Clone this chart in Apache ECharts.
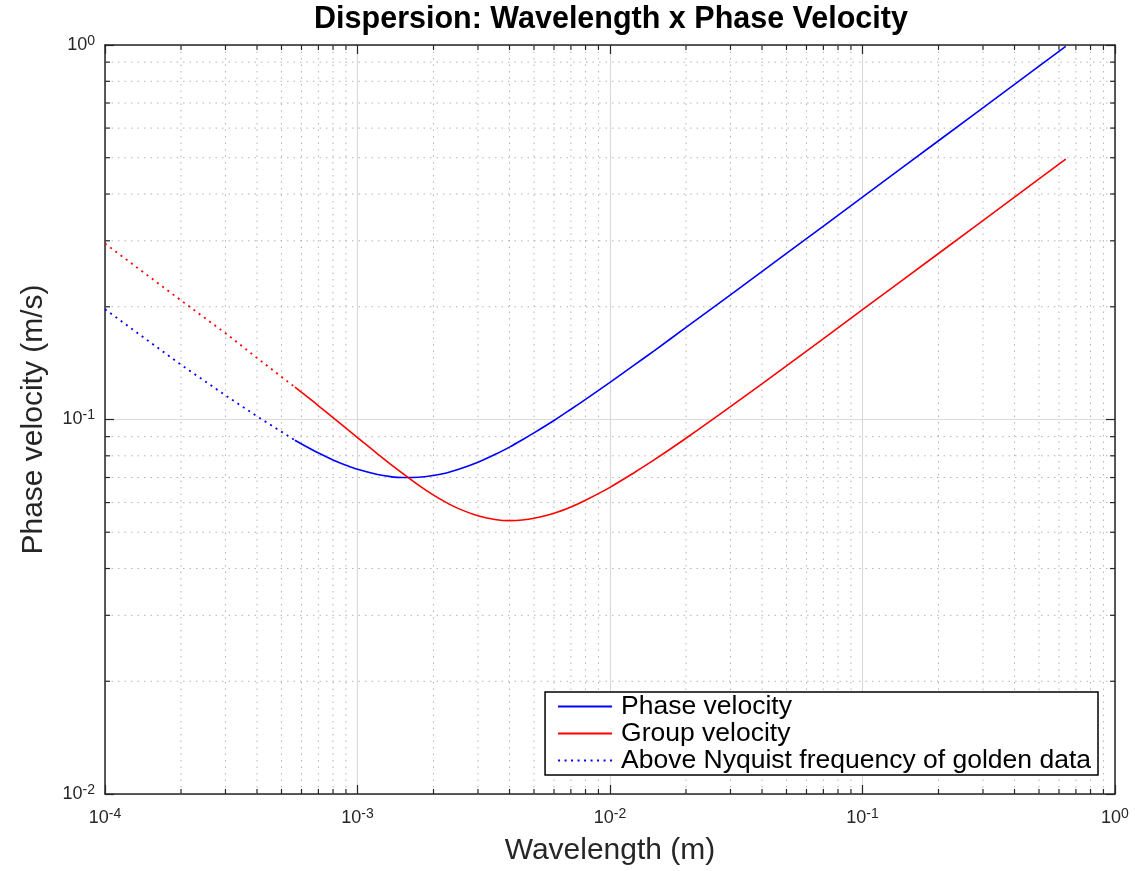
<!DOCTYPE html>
<html>
<head>
<meta charset="utf-8">
<script src="https://cdn.jsdelivr.net/npm/echarts@6/dist/echarts.min.js"></script>
<style>html,body{margin:0;padding:0;background:#fff;}#chart{width:1135px;height:871px;}</style>
</head>
<body>
<div id="chart"></div>
<script>
// ---- data ----
const xTickExponents = [-4, -3, -2, -1, 0];
const yTickExponents = [-2, -1, 0];
const seriesNames = ['Phase velocity', 'Group velocity', 'Above Nyquist frequency of golden data'];

// above-Nyquist (dotted) part
const nyqWavelength = [1e-4, 2e-4, 3e-4, 4e-4, 5.65e-4];
const nyqPhase      = [0.197, 0.140, 0.116, 0.102, 0.088];
const nyqGroup      = [0.295, 0.208, 0.170, 0.146, 0.122];

// solid part
const wavelength = [5.65e-4, 6.5e-4, 7e-4, 8e-4, 9e-4, 1e-3, 1.2e-3, 1.35e-3, 1.5e-3, 1.75e-3, 2e-3, 2.25e-3, 2.5e-3, 3e-3, 3.5e-3, 4e-3, 4.5e-3, 5e-3, 6e-3, 7e-3, 8e-3, 1e-2, 1.25e-2, 1.5e-2, 2e-2, 3e-2, 5e-2, 0.1, 0.2, 0.4, 0.638];
const phaseVel   = [0.088, 0.0835, 0.0814, 0.0780, 0.0755, 0.0736, 0.0713, 0.0704, 0.0700, 0.0701, 0.0709, 0.0720, 0.0735, 0.0769, 0.0806, 0.0844, 0.0883, 0.0921, 0.0994, 0.1065, 0.1132, 0.1257, 0.1399, 0.1528, 0.1761, 0.2152, 0.2776, 0.3925, 0.555, 0.785, 0.991];
const groupVel   = [0.122, 0.1133, 0.1088, 0.1012, 0.0949, 0.0895, 0.0810, 0.0760, 0.0720, 0.0667, 0.0628, 0.0600, 0.0579, 0.0553, 0.0541, 0.0537, 0.0539, 0.0545, 0.0562, 0.0584, 0.0609, 0.0659, 0.0722, 0.0781, 0.0891, 0.1082, 0.1391, 0.1964, 0.2775, 0.3924, 0.4956];

// ---- helpers ----
const FONT = 'Liberation Sans, Arial, Helvetica, sans-serif';
const xMin = Math.pow(10, xTickExponents[0]), xMax = Math.pow(10, xTickExponents[xTickExponents.length - 1]);
const yMin = Math.pow(10, yTickExponents[0]), yMax = Math.pow(10, yTickExponents[yTickExponents.length - 1]);
function minorValues(exps) {
  const out = [];
  for (let i = 0; i < exps.length - 1; i++) for (let m = 2; m <= 9; m++) out.push(m * Math.pow(10, exps[i]));
  return out;
}
const xMinor = minorValues(xTickExponents);
const yMinor = minorValues(yTickExponents);
const zip = (a, b) => a.map((v, i) => [v, b[i]]);
const labelFmt = v => '{b|10}{s|' + Math.round(Math.log10(v)) + '}';
const rich = { b: { fontSize: 18, fontFamily: FONT, color: '#262626' }, s: { fontSize: 14, fontFamily: FONT, color: '#262626', padding: [0, 0, 8, 0] } };
const AX = '#262626';

const chart = echarts.init(document.getElementById('chart'), null, { renderer: 'canvas' });

function minorGridItem(isX) {
  return function (params, api) {
    const gs = { stroke: '#b3b3b3', lineWidth: 1, lineDash: [1.5, 5] };
    const ts = { stroke: AX, lineWidth: 1.2 };
    if (isX) {
      const v = api.value(0);
      const b = api.coord([v, yMin]), t = api.coord([v, yMax]);
      return { type: 'group', children: [
        { type: 'line', shape: { x1: b[0], y1: b[1], x2: t[0], y2: t[1] }, style: gs },
        { type: 'line', shape: { x1: b[0], y1: b[1], x2: b[0], y2: b[1] - 5 }, style: ts },
        { type: 'line', shape: { x1: t[0], y1: t[1], x2: t[0], y2: t[1] + 5 }, style: ts }
      ]};
    } else {
      const v = api.value(1);
      const l = api.coord([xMin, v]), r = api.coord([xMax, v]);
      return { type: 'group', children: [
        { type: 'line', shape: { x1: l[0], y1: l[1], x2: r[0], y2: r[1] }, style: gs },
        { type: 'line', shape: { x1: l[0], y1: l[1], x2: l[0] + 5, y2: l[1] }, style: ts },
        { type: 'line', shape: { x1: r[0], y1: r[1], x2: r[0] - 5, y2: r[1] }, style: ts }
      ]};
    }
  };
}

const baseAxis = {
  type: 'log', logBase: 10,
  axisLine: { show: true, onZero: false, lineStyle: { color: AX, width: 1.5 } },
  axisTick: { show: true, inside: true, length: 9, lineStyle: { color: AX, width: 1.2 } },
  minorTick: { show: false },
  minorSplitLine: { show: false }
};

// legend icons: thin solid bar, and a row of dots
const solidIcon = 'path://M0,0H54V2H0Z';
let dotPath = 'path://';
for (let x = 0; x <= 52; x += 6.5) dotPath += 'M' + x + ',0h2v2h-2z';

const option = {
  animation: false,
  backgroundColor: '#fff',
  textStyle: { fontFamily: FONT },
  grid: { left: 105, right: 20, top: 45, bottom: 77, containLabel: false },
  graphic: [{
    type: 'text', x: 611, y: 4,
    style: { text: 'Dispersion: Wavelength x Phase Velocity', fontFamily: FONT, fontSize: 30.5, fontWeight: 'bold', fill: '#000', textAlign: 'center', textVerticalAlign: 'top' }
  }],
  xAxis: [
    Object.assign({}, baseAxis, {
      position: 'bottom', min: xMin, max: xMax,
      name: 'Wavelength (m)', nameLocation: 'middle', nameGap: 42,
      nameTextStyle: { fontSize: 30, color: '#262626', fontFamily: FONT },
      axisLabel: { formatter: labelFmt, rich: rich, margin: 13, showMinLabel: true, showMaxLabel: true },
      splitLine: { show: true, lineStyle: { color: '#dadada', width: 1.2 } }
    }),
    Object.assign({}, baseAxis, {
      position: 'top', min: xMin, max: xMax,
      axisLabel: { show: false }, splitLine: { show: false }
    })
  ],
  yAxis: [
    Object.assign({}, baseAxis, {
      position: 'left', min: yMin, max: yMax,
      name: 'Phase velocity (m/s)', nameLocation: 'middle', nameGap: 56,
      nameTextStyle: { fontSize: 30, color: '#262626', fontFamily: FONT },
      axisLabel: { formatter: labelFmt, rich: rich, margin: 10, showMinLabel: true, showMaxLabel: true },
      splitLine: { show: true, lineStyle: { color: '#dadada', width: 1.2 } }
    }),
    Object.assign({}, baseAxis, {
      position: 'right', min: yMin, max: yMax,
      axisLabel: { show: false }, splitLine: { show: false }
    })
  ],
  legend: {
    orient: 'vertical', right: 37, bottom: 96,
    data: [
      { name: seriesNames[0], icon: solidIcon },
      { name: seriesNames[1], icon: solidIcon },
      { name: seriesNames[2], icon: dotPath }
    ],
    backgroundColor: '#fff', borderColor: '#000', borderWidth: 1.5, borderRadius: 0,
    padding: [1, 7, 1, 13], itemGap: 0, itemWidth: 54, itemHeight: 2,
    textStyle: { fontSize: 26.5, lineHeight: 26, color: '#000', fontFamily: FONT, padding: [0, 0, 0, 4] }
  },
  series: [
    { type: 'custom', silent: true, z: 1, renderItem: minorGridItem(true), data: xMinor.map(v => [v, yMin]), clip: false },
    { type: 'custom', silent: true, z: 1, renderItem: minorGridItem(false), data: yMinor.map(v => [xMin, v]), clip: false },
    { name: seriesNames[0], type: 'line', z: 5, symbol: 'none', smooth: 0.3, data: zip(wavelength, phaseVel), lineStyle: { color: '#0000ff', width: 1.6 }, itemStyle: { color: '#0000ff' } },
    { name: seriesNames[1], type: 'line', z: 5, symbol: 'none', smooth: 0.3, data: zip(wavelength, groupVel), lineStyle: { color: '#ff0000', width: 1.6 }, itemStyle: { color: '#ff0000' } },
    { name: seriesNames[2], type: 'line', z: 5, symbol: 'none', data: zip(nyqWavelength, nyqPhase), lineStyle: { color: '#0000ff', width: 1.8, type: [2, 4.5] }, itemStyle: { color: '#0000ff' } },
    { name: 'Group velocity (above Nyquist)', type: 'line', z: 5, symbol: 'none', data: zip(nyqWavelength, nyqGroup), lineStyle: { color: '#ff0000', width: 1.8, type: [2, 4.5] }, itemStyle: { color: '#ff0000' } }
  ]
};
chart.setOption(option);
</script>
</body>
</html>
